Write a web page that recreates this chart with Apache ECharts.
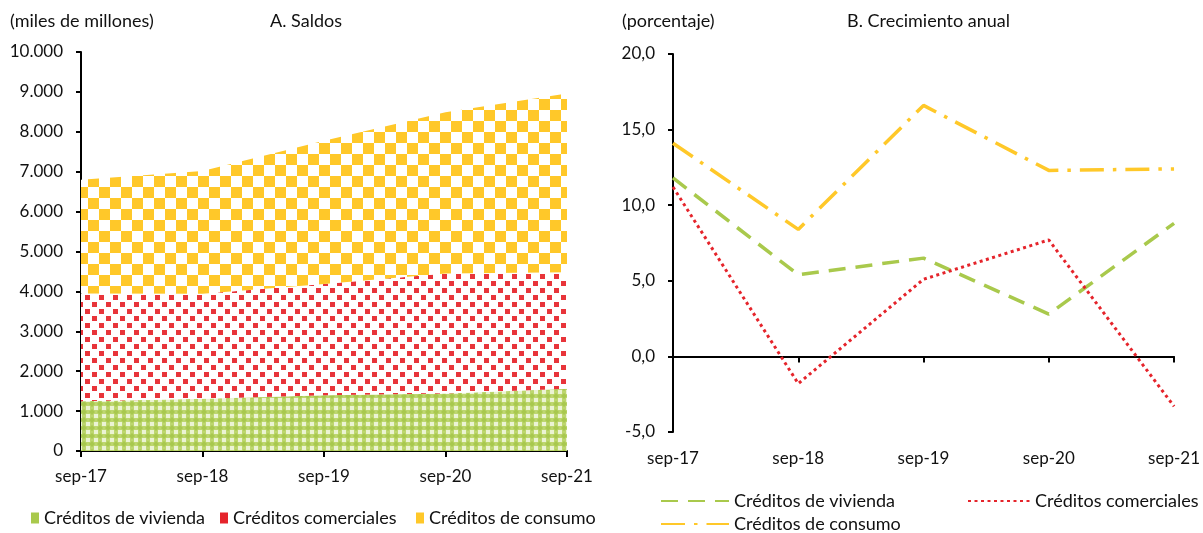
<!DOCTYPE html>
<html lang="es">
<head>
    <meta charset="UTF-8">
    <title>Saldos y crecimiento</title>
    <script src="https://cdn.jsdelivr.net/npm/echarts@6/dist/echarts.min.js"></script>
    <style>
        html, body { margin: 0; padding: 0; background: #fff; }
        #grafico { width: 1203px; height: 533px; }
    </style>
</head>
<body>
<div id="grafico"></div>
<script type="text/javascript">
    // datos
    var categorias = ['sep-17', 'sep-18', 'sep-19', 'sep-20', 'sep-21'];
    // A. saldos (miles de millones)
    var saldoVivienda = [1245, 1310, 1395, 1440, 1560];
    var saldoComerciales = [2705, 2630, 2790, 3010, 2920];
    var saldoConsumo = [2850, 3080, 3590, 4040, 4480];
    // B. crecimiento anual (porcentaje)
    var crecVivienda = [11.8, 5.4, 6.5, 2.8, 8.8];
    var crecComerciales = [11.2, -1.8, 5.1, 7.7, -3.3];
    var crecConsumo = [14.1, 8.4, 16.6, 12.3, 12.4];

    var verde = '#a9c94c', rojo = '#e5242b', amarillo = '#ffc829';
    var fuente = 'Lato';

    // tramas de relleno
    function trama(tam, dibujar) {
        var c = document.createElement('canvas');
        c.width = tam; c.height = tam;
        dibujar(c.getContext('2d'));
        return { image: c, repeat: 'repeat' };
    }
    var tramaConsumo = trama(22, function (g) {
        g.fillStyle = '#fff'; g.fillRect(0, 0, 22, 22);
        g.fillStyle = amarillo;
        g.fillRect(0, 0, 11, 11);
        g.fillRect(11, 11, 11, 11);
    });
    var tramaComerciales = trama(14, function (g) {
        g.fillStyle = '#fff'; g.fillRect(0, 0, 14, 14);
        g.fillStyle = '#e8343a';
        g.fillRect(1, 1, 5, 5);
        g.fillRect(8, 8, 5, 5);
    });
    var tramaVivienda = trama(8, function (g) {
        g.fillStyle = '#bdd66f'; g.fillRect(0, 0, 8, 8);
        g.fillStyle = '#a8c84e';
        g.beginPath(); g.moveTo(4, 1); g.lineTo(7, 4); g.lineTo(4, 7); g.lineTo(1, 4); g.closePath(); g.fill();
        g.fillStyle = 'rgba(255,255,255,0.7)';
        g.fillRect(0, 0, 2, 2); g.fillRect(6, 0, 2, 2); g.fillRect(0, 6, 2, 2); g.fillRect(6, 6, 2, 2);
    });

    var miles = function (v) {
        return String(v).replace(/\B(?=(\d{3})+(?!\d))/g, '.');
    };
    var decimal = function (v) {
        return v.toFixed(1).replace('.', ',');
    };

    var textoEje = { color: '#111', fontFamily: fuente, fontSize: 17 };
    var textoLeyenda = { color: '#111', fontFamily: fuente, fontSize: 18 };
    var fTitulo = '18px ' + fuente;

    var myChart = echarts.init(document.getElementById('grafico'));
    var option = {
        animation: false,
        textStyle: { fontFamily: fuente },
        graphic: [
            { type: 'text', left: 10, top: 12, style: { text: '(miles de millones)', font: fTitulo, fill: '#111' } },
            { type: 'text', left: 270, top: 12, style: { text: 'A. Saldos', font: fTitulo, fill: '#111' } },
            { type: 'text', left: 622, top: 12, style: { text: '(porcentaje)', font: fTitulo, fill: '#111' } },
            { type: 'text', left: 847, top: 12, style: { text: 'B. Crecimiento anual', font: fTitulo, fill: '#111' } }
        ],
        grid: [
            { left: 81, top: 52, width: 486, height: 399 },
            { left: 673, top: 54, width: 502, height: 378 }
        ],
        xAxis: [
            {
                gridIndex: 0, type: 'category', data: categorias, boundaryGap: false,
                axisLine: { lineStyle: { color: '#000', width: 2 } },
                axisTick: { length: 6, lineStyle: { color: '#000', width: 2 } },
                axisLabel: Object.assign({ margin: 17 }, textoEje)
            },
            {
                // eje en cero (solo línea y marcas)
                gridIndex: 1, type: 'category', data: categorias, boundaryGap: false,
                position: 'bottom',
                axisLine: { onZero: true, lineStyle: { color: '#000', width: 2 } },
                axisTick: { length: 6, lineStyle: { color: '#000', width: 2 } },
                axisLabel: { show: false }
            },
            {
                // etiquetas abajo
                gridIndex: 1, type: 'category', data: categorias, boundaryGap: false,
                position: 'bottom',
                axisLine: { show: false, onZero: false },
                axisTick: { show: false },
                axisLabel: Object.assign({ margin: 18 }, textoEje)
            }
        ],
        yAxis: [
            {
                gridIndex: 0, type: 'value', min: 0, max: 10000, interval: 1000,
                axisLine: { show: true, lineStyle: { color: '#000', width: 2 } },
                axisTick: { show: true, length: 5, lineStyle: { color: '#000', width: 2 } },
                splitLine: { show: false },
                axisLabel: Object.assign({ margin: 18, formatter: miles }, textoEje)
            },
            {
                gridIndex: 1, type: 'value', min: -5, max: 20, interval: 5,
                axisLine: { show: true, onZero: false, lineStyle: { color: '#000', width: 2 } },
                axisTick: { show: true, length: 5, lineStyle: { color: '#000', width: 2 } },
                splitLine: { show: false },
                axisLabel: Object.assign({ margin: 18, formatter: decimal }, textoEje)
            }
        ],
        legend: [
            {
                data: ['Créditos de vivienda '], left: 26, top: 504, icon: 'rect',
                itemWidth: 8, itemHeight: 11, itemGap: 0, selectedMode: false, textStyle: textoLeyenda
            },
            {
                data: ['Créditos comerciales '], left: 215, top: 504, icon: 'rect',
                itemWidth: 8, itemHeight: 11, itemGap: 0, selectedMode: false, textStyle: textoLeyenda
            },
            {
                data: ['Créditos de consumo '], left: 411, top: 504, icon: 'rect',
                itemWidth: 8, itemHeight: 11, itemGap: 0, selectedMode: false, textStyle: textoLeyenda
            },
            {
                data: ['Créditos de vivienda'], left: 655, top: 487,
                itemWidth: 68, itemHeight: 16, selectedMode: false, textStyle: textoLeyenda,
                itemStyle: { opacity: 0 }
            },
            {
                data: ['Créditos comerciales'], left: 962, top: 487,
                itemWidth: 62, itemHeight: 16, selectedMode: false, textStyle: textoLeyenda,
                itemStyle: { opacity: 0 }
            },
            {
                data: ['Créditos de consumo'], left: 655, top: 510,
                itemWidth: 68, itemHeight: 16, selectedMode: false, textStyle: textoLeyenda,
                itemStyle: { opacity: 0 }
            }
        ],
        series: [
            {
                name: 'Créditos de vivienda ', type: 'line', stack: 'saldo', data: saldoVivienda,
                xAxisIndex: 0, yAxisIndex: 0, symbol: 'none',
                itemStyle: { color: verde }, lineStyle: { width: 0 },
                areaStyle: { color: tramaVivienda, opacity: 1 }
            },
            {
                name: 'Créditos comerciales ', type: 'line', stack: 'saldo', data: saldoComerciales,
                xAxisIndex: 0, yAxisIndex: 0, symbol: 'none',
                itemStyle: { color: rojo }, lineStyle: { width: 0 },
                areaStyle: { color: tramaComerciales, opacity: 1 }
            },
            {
                name: 'Créditos de consumo ', type: 'line', stack: 'saldo', data: saldoConsumo,
                xAxisIndex: 0, yAxisIndex: 0, symbol: 'none',
                itemStyle: { color: amarillo }, lineStyle: { width: 0 },
                areaStyle: { color: tramaConsumo, opacity: 1 }
            },
            {
                name: 'Créditos de vivienda', type: 'line', data: crecVivienda,
                xAxisIndex: 1, yAxisIndex: 1, symbol: 'none', z: 3,
                itemStyle: { color: verde },
                lineStyle: { color: verde, width: 3.5, type: [17, 10] }
            },
            {
                name: 'Créditos comerciales', type: 'line', data: crecComerciales,
                xAxisIndex: 1, yAxisIndex: 1, symbol: 'none', z: 4,
                itemStyle: { color: rojo },
                lineStyle: { color: rojo, width: 3, type: [3, 3.5] }
            },
            {
                name: 'Créditos de consumo', type: 'line', data: crecConsumo,
                xAxisIndex: 1, yAxisIndex: 1, symbol: 'none', z: 2,
                itemStyle: { color: amarillo },
                lineStyle: { color: amarillo, width: 3.5, type: [24, 9, 3.5, 9] }
            }
        ]
    };
    myChart.setOption(option);
</script>
</body>
</html>
